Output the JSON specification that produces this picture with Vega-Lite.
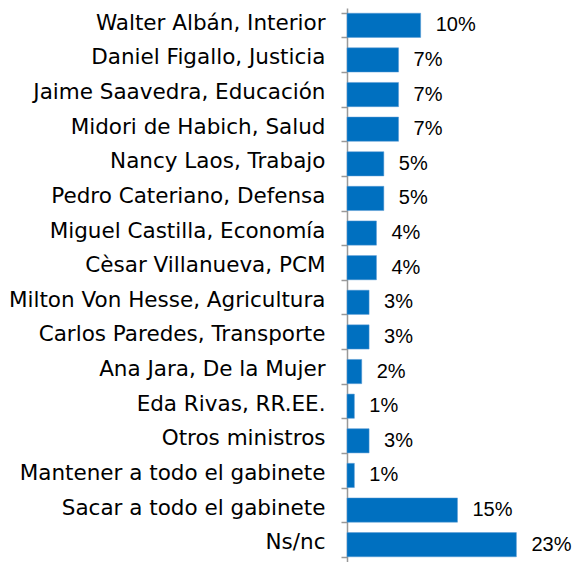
{
  "$schema": "https://vega.github.io/schema/vega-lite/v6.json",
  "width": 225,
  "height": 554,
  "autosize": {"type": "none"},
  "padding": {"left": 347, "top": 8, "right": 0, "bottom": 0},
  "background": "white",
  "config": {"view": {"stroke": null}},
  "data": {
    "values": [
      {"name": "Walter Albán, Interior", "value": 0.10},
      {"name": "Daniel Figallo, Justicia", "value": 0.07},
      {"name": "Jaime Saavedra, Educación", "value": 0.07},
      {"name": "Midori de Habich, Salud", "value": 0.07},
      {"name": "Nancy Laos, Trabajo", "value": 0.05},
      {"name": "Pedro Cateriano, Defensa", "value": 0.05},
      {"name": "Miguel Castilla, Economía", "value": 0.04},
      {"name": "Cèsar Villanueva, PCM", "value": 0.04},
      {"name": "Milton Von Hesse, Agricultura", "value": 0.03},
      {"name": "Carlos Paredes, Transporte", "value": 0.03},
      {"name": "Ana Jara, De la Mujer", "value": 0.02},
      {"name": "Eda Rivas, RR.EE.", "value": 0.01},
      {"name": "Otros ministros", "value": 0.03},
      {"name": "Mantener a todo el gabinete", "value": 0.01},
      {"name": "Sacar a todo el gabinete", "value": 0.15},
      {"name": "Ns/nc", "value": 0.23}
    ]
  },
  "encoding": {
    "y": {
      "field": "name",
      "type": "nominal",
      "sort": null,
      "scale": {"paddingInner": 0.3, "paddingOuter": 0.15},
      "axis": {
        "title": null,
        "domainColor": "#999999",
        "domainWidth": 1.5,
        "tickColor": "#999999",
        "tickWidth": 1.5,
        "tickSize": 6,
        "tickBand": "extent",
        "labelFont": "DejaVu Sans",
        "labelFontSize": 21.5,
        "labelColor": "#000000",
        "labelPadding": 16,
        "labelLimit": 400,
        "labelBaseline": "middle",
        "labelOffset": -2
      }
    },
    "x": {
      "field": "value",
      "type": "quantitative",
      "scale": {"domain": [0, 0.3055], "nice": false},
      "axis": null
    }
  },
  "layer": [
    {"mark": {"type": "bar", "color": "#0070C0", "stroke": "#5B9BD5", "strokeWidth": 0.5}},
    {
      "mark": {"type": "text", "align": "left", "baseline": "middle", "dx": 15, "font": "Liberation Sans", "fontSize": 20, "color": "#000000"},
      "encoding": {"text": {"field": "value", "type": "quantitative", "format": ".0%"}}
    }
  ]
}
